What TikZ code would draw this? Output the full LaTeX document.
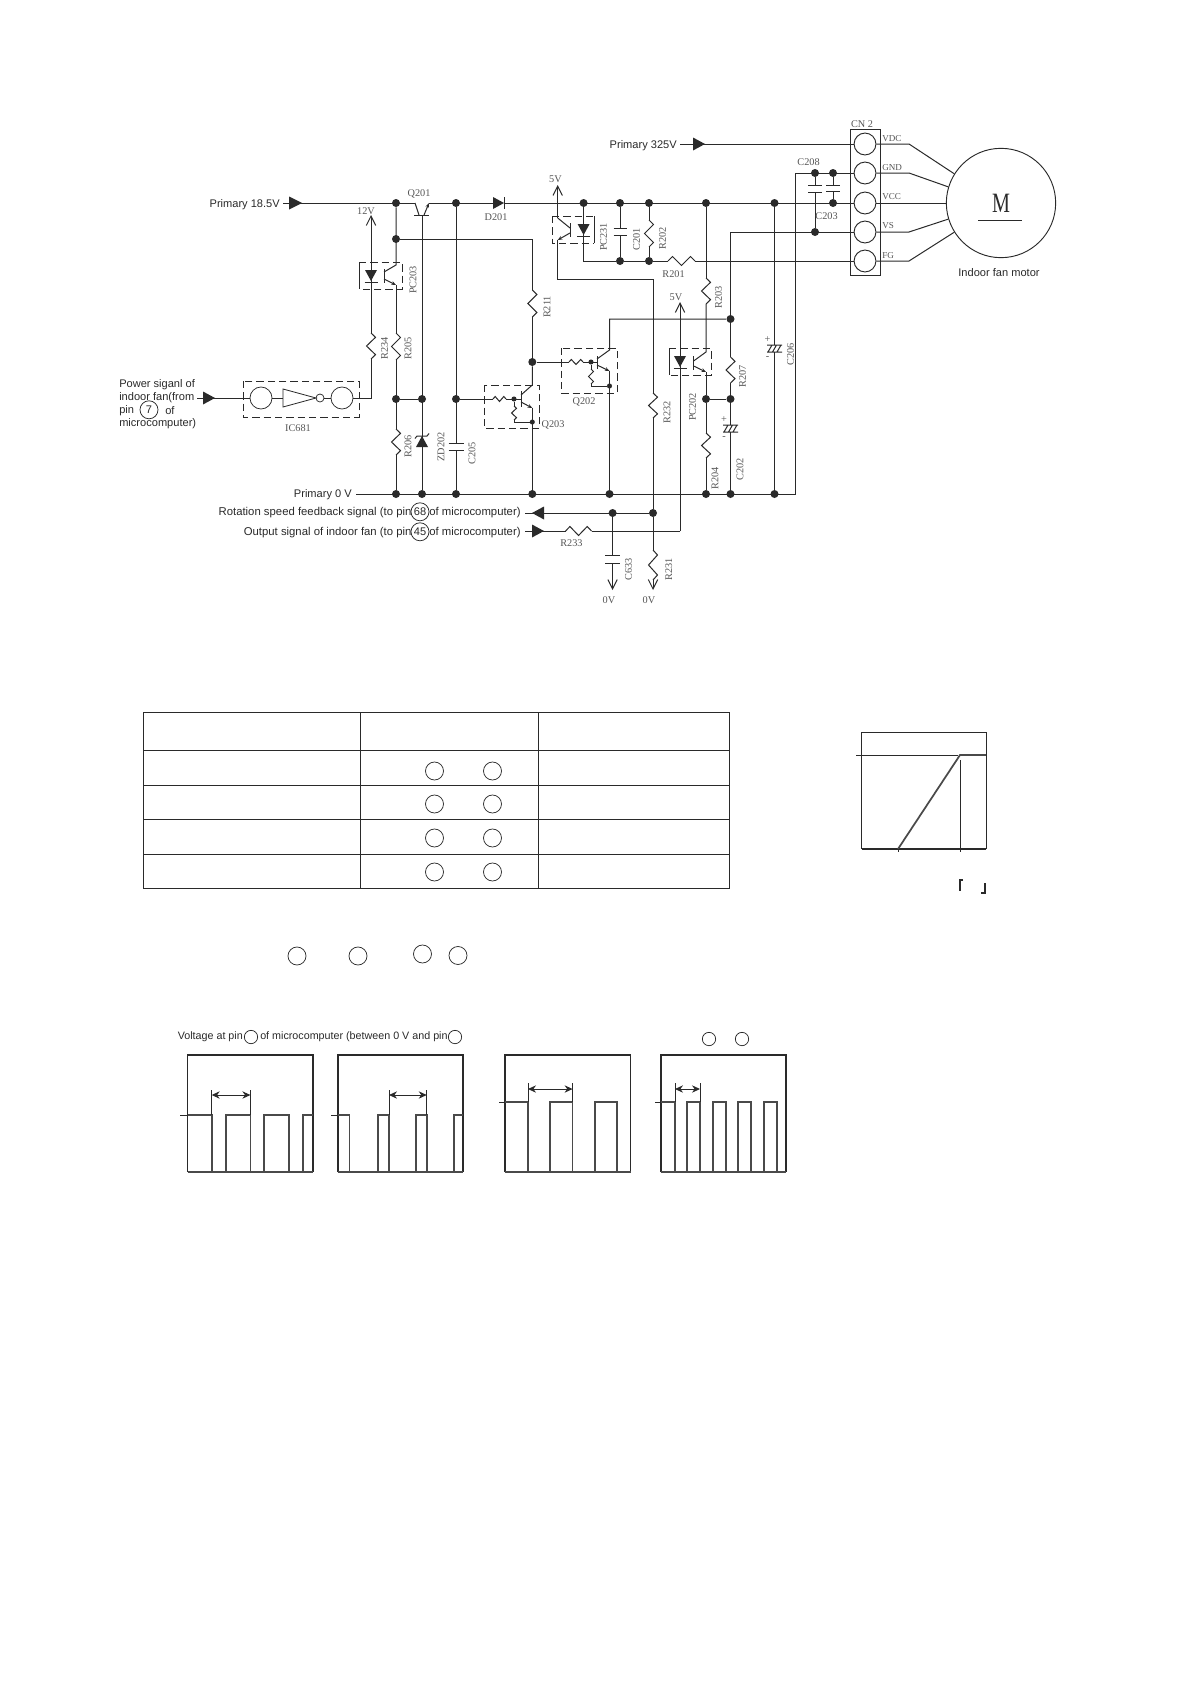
\documentclass[tikz,border=0pt]{standalone}
\usepackage{fontspec}
\setmainfont{Liberation Serif}
\newfontfamily\sansf{Liberation Sans}
\usetikzlibrary{arrows.meta}
\definecolor{ink}{HTML}{2A2A2A}
\definecolor{lab}{HTML}{555555}
\newcommand\RV[5][4.5]{%
  \coordinate (#2a) at (#3,#4); \coordinate (#2b) at (#3,#5);
  \pgfmathsetmacro\myrh{#5-#4}
  \draw[wire] (#2a) -- ++(#1,\myrh/6) -- ++(-2*#1,\myrh/3) -- ++(2*#1,\myrh/3) -- (#2b);}
\newcommand\RH[5][4.5]{%
  \coordinate (#2a) at (#4,#3); \coordinate (#2b) at (#5,#3);
  \pgfmathsetmacro\myrh{#5-#4}
  \draw[wire] (#2a) -- ++(\myrh/6,-#1) -- ++(\myrh/3,2*#1) -- ++(\myrh/3,-2*#1) -- (#2b);}
\newcommand\TriR[3]{\fill[ink] (#1,#3-6.5) -- (#2,#3) -- (#1,#3+6.5) -- cycle;}
\newcommand\TriD[3]{\fill[ink] (#1-6,#2) -- (#1+6,#2) -- (#1,#3) -- cycle; \draw[wire] (#1-6.5,#3+1) -- (#1+6.5,#3+1);}
\newcommand\CapV[4]{\draw[wire] (#1-#4,#2) -- (#1+#4,#2) (#1-#4,#3) -- (#1+#4,#3);}
\newcommand\PCap[4]{\draw[wire] (#1-#4,#2) -- (#1+#4,#2) (#1-#4,#3) -- (#1+#4,#3)
  (#1-#4+1,#3) -- (#1-#4+5,#2) (#1-2,#3) -- (#1+2,#2) (#1+#4-5,#3) -- (#1+#4-1,#2);}
\newcommand\Lb[4]{\node[slab] (#1) at (#2,#3) {#4};}
\newcommand\Lr[4]{\node[slab,rotate=90] (#1) at (#2,#3) {#4};}
\tikzset{
  wire/.style={draw=ink,line width=0.75pt},
  thinl/.style={draw=ink,line width=0.6pt},
  bdot/.style={fill=ink,circle,inner sep=0pt,minimum size=6pt},
  sdot/.style={fill=ink,circle,inner sep=0pt,minimum size=3.8pt},
  slab/.style={text=lab,inner sep=0pt,font=\fontsize{7.7pt}{8pt}\selectfont},
  txt/.style={text=ink,inner sep=0pt,yshift=-1pt,font=\sansf\fontsize{8.3pt}{9pt}\selectfont},
  sigt/.style={txt,font=\sansf\fontsize{8.5pt}{9pt}\selectfont},
  volt/.style={text=ink,inner sep=0pt,font=\sansf\fontsize{8.05pt}{9pt}\selectfont},
  dbox/.style={draw=ink,line width=0.6pt,dash pattern=on 5.5pt off 3pt},
  open/.style={-{Straight Barb[length=7pt,width=7pt]}},
  pinc/.style={draw=ink,line width=0.55pt,circle,inner sep=0pt,minimum size=13.5pt},
  pinn/.style={pinc,text=ink,yshift=-0.6pt,font=\sansf\fontsize{8.3pt}{9pt}\selectfont},
  pins/.style={draw=ink,line width=0.55pt,circle,inner sep=0pt,minimum size=10pt},
  conn/.style={draw=ink,line width=0.7pt,circle,inner sep=0pt,minimum size=16.4pt},
  tarrow/.style={-{Stealth[length=3.5pt,width=2.8pt]}},
  frame/.style={draw=ink,line width=0.9pt},
  wave/.style={draw=ink!85,line width=1.3pt},
  span/.style={{Stealth[length=6pt,width=5.5pt]}-{Stealth[length=6pt,width=5.5pt]},draw=ink,line width=0.7pt},
  tbl/.style={draw=ink,line width=0.75pt}
}
\begin{document}
\begin{tikzpicture}[x=0.75pt,y=-0.75pt]
\path[use as bounding box,fill=white] (0,0) rectangle (1190,1684);
% connector block and motor
\draw[wire] (850,129) rectangle (880,275);
\foreach \nm/\yy in {1/144,2/173,3/203,4/232,5/261} \node[conn] (cn\nm) at (865,\yy) {};
\node[draw=ink,line width=0.7pt,circle,inner sep=0pt,minimum size=82pt] (mot) at (1001,203) {};
\coordinate (k1) at (909,144); \coordinate (k2) at (909,173);
\coordinate (k4) at (909,232); \coordinate (k5) at (909,261);
\draw[wire] (cn1.east) -- (k1) -- (mot.148);
\draw[wire] (cn2.east) -- (k2) -- (mot.163);
\draw[wire] (cn3.east) -- (mot.west);
\draw[wire] (cn4.east) -- (k4) -- (mot.197);
\draw[wire] (cn5.east) -- (k5) -- (mot.212);
\node[inner sep=0pt,text=ink,xscale=0.72,font=\fontsize{21pt}{22pt}\selectfont] (mm) at (1001,203) {M};
\coordinate (ula) at (978,220); \coordinate (ulb) at (1022,220);
\draw[wire] (ula) -- (ulb);
\node[txt] (lmot) at (999,271) {Indoor fan motor};
\Lb{lcn}{862}{124}{CN 2}
\node[slab,anchor=west,font=\fontsize{6.8pt}{8pt}\selectfont] (lv1) at (882,139) {VDC};
\node[slab,anchor=west,font=\fontsize{6.8pt}{8pt}\selectfont] (lv2) at (882,168) {GND};
\node[slab,anchor=west,font=\fontsize{6.8pt}{8pt}\selectfont] (lv3) at (882,197) {VCC};
\node[slab,anchor=west,font=\fontsize{6.8pt}{8pt}\selectfont] (lv4) at (882,226) {VS};
\node[slab,anchor=west,font=\fontsize{6.8pt}{8pt}\selectfont] (lv5) at (882,256) {FG};
% 325 V
\node[txt,anchor=east] (l325) at (677,144) {Primary 325V};
\coordinate (s325) at (680,144);
\draw[wire] (s325) -- (cn1.west);
\TriR{693}{705}{144}
% top rail
\node[txt,anchor=east] (l185) at (280,203) {Primary 18.5V};
\coordinate (s185) at (283,203);
\coordinate (qe) at (415,203); \coordinate (qc) at (429,203);
\coordinate (qb) at (422,215); \coordinate (da) at (493,203); \coordinate (db) at (504,203);
\foreach \nm/\xx in {r1/396,r2/456,r3/583.6,r4/620,r5/649,r6/706,r7/774.5} \node[bdot] (\nm) at (\xx,203) {};
\draw[wire] (s185) -- (qe);
\draw[wire] (qc) -- (da);
\draw[wire] (db) -- (cn3.west);
\TriR{289}{302}{203}
\draw[wire] (414,215) -- (429,215);
\draw[wire] (qe) -- (419,215);
\draw[wire,tarrow] (424,215) -- (qc);
\Lb{lq201}{419}{194}{Q201}
\fill[ink] (493,197) -- (504,203) -- (493,209) -- cycle;
\draw[wire] (504,197) -- (504,209);
\Lb{ld201}{496}{217}{D201}
% 0 V rail
\node[txt,anchor=east] (l0v) at (352,493) {Primary 0 V};
\coordinate (s0) at (356,494); \coordinate (c0) at (795,494); \coordinate (c1) at (795,173);
\foreach \nm/\xx in {g1/396,g2/422,g3/456,g4/532.3,g5/609.5,g6/706,g7/730.5,g8/774.5} \node[bdot] (\nm) at (\xx,494) {};
\draw[wire] (s0) -- (c0) -- (c1) -- (cn2.west);
% left input and IC681
\node[txt,anchor=west] (lp1) at (119,383) {Power siganl of};
\node[txt,anchor=west] (lp2) at (119,396) {indoor fan(from};
\node[txt,anchor=west] (lp3) at (119,409) {pin};
\node[pinn] (p7) at (149,409) {7};
\node[txt,anchor=west] (lp4) at (165,409) {of};
\node[txt,anchor=west] (lp5) at (119,422) {microcomputer)};
\coordinate (sin) at (197,398);
\node[draw=ink,line width=0.55pt,circle,inner sep=0pt,minimum size=16.5pt] (ica) at (261,398) {};
\node[draw=ink,line width=0.55pt,circle,inner sep=0pt,minimum size=16.5pt] (icb) at (342,398) {};
\draw[wire] (sin) -- (ica.west);
\TriR{203}{215}{398}
\draw[dbox] (243,381) rectangle (359,417);
\coordinate (ia) at (283,398);
\draw[wire] (ica.east) -- (ia);
\draw[thinl] (283,389) -- (316,398) -- (283,407) -- cycle;
\node[draw=ink,line width=0.55pt,circle,inner sep=0pt,minimum size=6pt] (bub) at (320,398) {};
\draw[wire] (bub.east) -- (icb.west);
\coordinate (t1) at (371,398); \coordinate (t2) at (371,215);
\RV{R234}{371}{333}{359}
\draw[wire] (icb.east) -- (t1) -- (R234b);
\draw[wire,open] (R234a) -- (t2);
\Lb{l12}{366}{211}{12V}
\Lb{lic}{298}{428}{IC681}
\Lr{lr234}{384.5}{348}{R234}
\TriD{371}{270}{281}
% PC203
\draw[dbox] (359,262) -- (402,262) -- (402,289) -- (359,289);
\draw[thinl] (359,262) -- (359,289);
\draw[wire] (384,269) -- (384,283);
\RV{R205}{396}{333}{360}
\RV{R206}{396}{429}{455}
\node[bdot] (n239) at (396,239) {};
\node[bdot] (n399a) at (396,399) {};
\node[bdot] (n399b) at (422,399) {};
\node[bdot] (n399c) at (456,399) {};
\coordinate (q3c) at (396,265); \coordinate (q3e) at (396,285);
\draw[wire] (r1) -- (q3c) -- (384,272);
\draw[wire,tarrow] (384,279) -- (q3e);
\draw[wire] (q3e) -- (R205a);
\draw[wire] (R205b) -- (R206a);
\draw[wire] (R206b) -- (g1);
\draw[wire] (n399a) -- (n399b);
\Lr{lpc203}{413}{280}{PC203}
\Lr{lr205}{408}{348}{R205}
\Lr{lr206}{408}{446}{R206}
% Q201 base and zener
\draw[wire] (qb) -- (g2);
\fill[ink] (416,447) -- (428,447) -- (422,436) -- cycle;
\draw[wire] (415,438.5) -- (417,436) -- (427,436) -- (429,433.5);
\Lr{lzd}{441}{447}{ZD202}
% C205
\coordinate (c5a) at (456,443); \coordinate (c5b) at (456,450);
\draw[wire] (r2) -- (c5a);
\draw[wire] (c5b) -- (g3);
\CapV{456}{443}{450}{7.5}
\Lr{lc205}{472}{453}{C205}
% R211 and Q203
\coordinate (u1) at (532.3,239);
\RV{R211}{532.3}{290}{317}
\node[bdot] (n362) at (532.3,362) {};
\draw[wire] (n239) -- (u1) -- (R211a);
\draw[wire] (R211b) -- (n362);
\Lr{lr211}{547}{307}{R211}
\draw[dbox] (484,385) rectangle (539,428);
\RH[2.5]{RQ3}{399}{493}{506}
\node[sdot] (q3d) at (514,399) {};
\node[sdot] (q3f) at (532.3,422) {};
\RV[2.5]{RQ3v}{514}{406}{420}
\draw[wire] (n399c) -- (RQ3a);
\draw[wire] (RQ3b) -- (521,399);
\draw[wire] (521,391) -- (521,407);
\draw[wire] (q3d) -- (RQ3va);
\draw[wire] (RQ3vb) -- (514,422) -- (q3f);
\draw[wire] (n362) -- (532.3,385) -- (521,395);
\draw[wire,tarrow] (521,402) -- (532.3,408);
\draw[wire] (532.3,408) -- (g4);
\Lb{lq203}{553}{425}{Q203}
% Q202
\draw[dbox] (561,348) rectangle (617,393);
\RH[2.5]{RQ2}{362}{569}{583}
\node[sdot] (q2d) at (591,362) {};
\node[sdot] (q2f) at (609.5,386) {};
\RV[2.5]{RQ2v}{591}{369}{384}
\draw[wire] (n362) -- (RQ2a);
\draw[wire] (RQ2b) -- (597,362);
\draw[wire] (597,356) -- (597,369);
\draw[wire] (q2d) -- (RQ2va);
\draw[wire] (RQ2vb) -- (591,386) -- (q2f);
\node[bdot] (n319) at (730.5,319) {};
\draw[wire] (n319) -- (609.5,319) -- (609.5,350) -- (597,359);
\draw[wire,tarrow] (597,365) -- (609.5,371);
\draw[wire] (609.5,371) -- (g5);
\Lb{lq202}{584}{402}{Q202}
% PC231
\draw[dbox] (552,216) -- (552,243) -- (594,243);
\draw[dbox] (552,216) -- (594,216);
\draw[thinl] (594,216) -- (594,243);
\node[bdot] (n620b) at (620,261) {};
\node[bdot] (n649b) at (649,261) {};
\TriD{583.6}{224}{235}
\draw[wire] (r3) -- (583.6,261) -- (n620b);
\draw[wire] (570,223) -- (570,237);
\coordinate (top5) at (557.7,185);
\draw[wire,open] (557.7,218) -- (top5);
\draw[wire] (557.7,218) -- (570,228);
\draw[wire,tarrow] (570,233) -- (557.7,240);
\coordinate (v1) at (557.7,279); \coordinate (v2) at (653,279);
\RV{R232}{653}{393}{418}
\RV{R231}{653}{550}{580}
\node[bdot] (n653) at (653,513) {};
\draw[wire] (557.7,240) -- (v1) -- (v2) -- (R232a);
\draw[wire] (R232b) -- (n653) -- (R231a);
\coordinate (e231) at (653,590);
\draw[wire,open] (R231b) -- (e231);
\Lb{l5a}{555.5}{179}{5V}
\Lr{lpc231}{603.6}{237}{PC231}
\Lr{lr232}{667}{412}{R232}
\Lr{lr231}{668.7}{569}{R231}
\Lb{l0b}{649}{600}{0V}
% C201 R202 R201
\draw[wire] (r4) -- (620,228);
\draw[wire] (620,235) -- (n620b);
\CapV{620}{228}{235}{6.5}
\RV{R202}{649}{220}{247}
\draw[wire] (r5) -- (R202a);
\draw[wire] (R202b) -- (n649b);
\draw[wire] (n620b) -- (n649b);
\RH{R201}{261}{668}{695}
\draw[wire] (n649b) -- (R201a);
\draw[wire] (R201b) -- (cn5.west);
\Lr{lc201}{636.5}{239}{C201}
\Lr{lr202}{662.5}{238}{R202}
\Lb{lr201}{673.6}{274}{R201}
% R203 R204 PC202
\RV{R203}{706}{278}{304}
\RV{R204}{706}{433}{458}
\node[bdot] (n706) at (706,399) {};
\node[bdot] (n731) at (730.5,399) {};
\draw[wire] (r6) -- (R203a);
\draw[wire] (R203b) -- (706,352) -- (693.6,361);
\draw[wire,tarrow] (693.6,366) -- (706,372);
\draw[wire] (706,372) -- (n706) -- (R204a);
\draw[wire] (R204b) -- (g6);
\draw[wire] (n706) -- (n731);
\draw[dbox] (669,348) -- (711,348) -- (711,375) -- (669,375);
\draw[thinl] (669,348) -- (669,375);
\draw[wire] (693.6,356) -- (693.6,370);
\TriD{680}{356}{367}
\coordinate (top5b) at (680,302); \coordinate (d1) at (680,531);
\RH{R233}{531}{565.6}{591.5}
\draw[wire,open] (d1) -- (top5b);
\draw[wire] (R233b) -- (d1);
\Lb{l5b}{676}{297}{5V}
\Lr{lpc202}{692.6}{407}{PC202}
\Lr{lr203}{718.6}{297}{R203}
\Lr{lr204}{715}{478}{R204}
\Lb{lr233}{571.5}{543}{R233}
% R207 C202
\coordinate (v0) at (730.5,232);
\RV{R207}{730.5}{357}{383}
\node[bdot] (n816b) at (815,232) {};
\draw[wire] (cn4.west) -- (v0) -- (n319) -- (R207a);
\draw[wire] (R207b) -- (n731) -- (730.5,425);
\draw[wire] (730.5,432) -- (g7);
\PCap{730.5}{425}{432}{7.5}
\node[slab] (p202) at (724,420) {+};
\node[slab] (m202) at (724,438) {-};
\Lr{lr207}{742.5}{376}{R207}
\Lr{lc202}{740}{469}{C202}
% C206
\draw[wire] (r7) -- (774.5,345);
\draw[wire] (774.5,352) -- (g8);
\PCap{774.5}{345}{352}{7.5}
\node[slab] (p206) at (767.5,340) {+};
\node[slab] (m206) at (767.5,358) {-};
\Lr{lc206}{790.6}{354}{C206}
% C208 C203
\node[bdot] (n816) at (815,173) {};
\node[bdot] (n834) at (833,173) {};
\node[bdot] (n834b) at (833,203) {};
\draw[wire] (n816) -- (815,185);
\draw[wire] (815,192) -- (n816b);
\CapV{815}{185}{192}{7}
\draw[wire] (n834) -- (833,185);
\draw[wire] (833,191) -- (n834b);
\CapV{833}{185}{191}{7}
\Lb{lc208}{808.6}{162}{C208}
\Lb{lc203}{826.6}{216}{C203}
% signal lines
\node[sigt,anchor=east] (l681) at (411.7,511) {Rotation speed feedback signal (to pin};
\node[pinn] (p68) at (420,511) {68};
\node[sigt,anchor=west] (l682) at (429,511) {of microcomputer)};
\node[sigt,anchor=east] (l451) at (411.7,531) {Output signal of indoor fan (to pin};
\node[pinn] (p45) at (420,531) {45};
\node[sigt,anchor=west] (l452) at (429,531) {of microcomputer)};
\coordinate (s68) at (525,513); \coordinate (s45) at (525,531);
\node[bdot] (n613) at (612.6,513) {};
\draw[wire] (s68) -- (n653);
\draw[wire] (s45) -- (R233a);
\fill[ink] (544,506.5) -- (532,513) -- (544,519.5) -- cycle;
\TriR{532}{544}{531}
\draw[wire] (n613) -- (612.6,555);
\coordinate (e633) at (612.6,590);
\draw[wire,open] (612.6,563) -- (e633);
\CapV{612.6}{555}{563}{7.5}
\Lr{lc633}{628.6}{569}{C633}
\Lb{l0a}{609}{600}{0V}
% table
\draw[tbl] (143.3,712) rectangle (729,888);
\foreach \yy in {750,785,819,854} \draw[tbl] (143.3,\yy) -- (729,\yy);
\draw[tbl] (360.5,712) -- (360.5,888);
\draw[tbl] (538,712) -- (538,888);
\foreach \nm/\yy in {a/771,b/804,c/838,d/872} {
  \node[pinc] (t\nm1) at (434.5,\yy) {};
  \node[pinc] (t\nm2) at (492.5,\yy) {};
}
\node[pinc] (u1c) at (297,956) {};
\node[pinc] (u2c) at (358,956) {};
\node[pinc] (u3c) at (422.5,954) {};
\node[pinc] (u4c) at (458,955.5) {};
% characteristic
\draw[wire] (986,732) -- (861.5,732);
\draw[frame] (861.5,732) -- (861.5,849);
\draw[thinl] (856,755) -- (958,755);
\draw[draw=ink,line width=1.5pt] (861.5,849) -- (986,849);
\draw[wave] (898,849) -- (960,755) -- (986,755);
\draw[thinl] (960,760) -- (960,852);
\draw[thinl] (898,849) -- (898,852);
\draw[thinl] (986,732) -- (986,849);
\draw[frame] (963,880) -- (960,880) -- (960,891);
\draw[frame] (985,883) -- (985,893) -- (981,893);
% waveforms
\node[volt,anchor=west] (lv) at (177.5,1037) {Voltage at pin};
\node[pins] (vc1) at (251,1037) {};
\node[volt,anchor=west] (lv2x) at (260,1037) {of microcomputer (between 0 V and pin};
\node[pins] (vc2) at (455,1037) {};
\node[pins] (vc3) at (709,1039) {};
\node[pins] (vc4) at (742,1039) {};
% plot 1
\draw[frame] (187.5,1172) -- (187.5,1055) -- (313,1055) -- (313,1172);
\draw[thinl] (180,1115) -- (187.5,1115);
\draw[wave] (187.5,1115) -- (211.7,1115) -- (211.7,1172) -- (226,1172) -- (226,1115) -- (250.4,1115) -- (250.4,1172) -- (264,1172) -- (264,1115) -- (289,1115) -- (289,1172) -- (303,1172) -- (303,1115) -- (313,1115);
\draw[wave] (187.5,1172) -- (313,1172);
\draw[thinl] (211.7,1090) -- (211.7,1115) (250.4,1090) -- (250.4,1115);
\draw[span] (211.7,1095) -- (250.4,1095);
% plot 2
\draw[frame] (338,1172) -- (338,1055) -- (463,1055) -- (463,1172);
\draw[thinl] (331,1115) -- (338,1115);
\draw[wave] (338,1115) -- (349.6,1115) -- (349.6,1172) -- (378,1172) -- (378,1115) -- (389,1115) -- (389,1172) -- (416,1172) -- (416,1115) -- (426.7,1115) -- (426.7,1172) -- (454,1172) -- (454,1115) -- (463,1115);
\draw[wave] (338,1172) -- (463,1172);
\draw[thinl] (389,1090) -- (389,1115) (426.7,1090) -- (426.7,1115);
\draw[span] (389,1095) -- (426.7,1095);
% plot 3
\begin{scope}[xshift=-1.5pt]
\draw[frame] (507,1172) -- (507,1055) -- (632.5,1055) -- (632.5,1172);
\draw[thinl] (501,1102) -- (507,1102);
\draw[wave] (507,1102) -- (530,1102) -- (530,1172) -- (552,1172) -- (552,1102) -- (574.6,1102) -- (574.6,1172) -- (597,1172) -- (597,1102) -- (619,1102) -- (619,1172) -- (632.5,1172);
\draw[wave] (507,1172) -- (632.5,1172);
\draw[thinl] (530,1083) -- (530,1102) (574.6,1083) -- (574.6,1102);
\draw[span] (530,1089) -- (574.6,1089);
\end{scope}
% plot 4
\begin{scope}[xshift=-2.25pt]
\draw[frame] (664,1172) -- (664,1055) -- (789,1055) -- (789,1172);
\draw[thinl] (658,1102) -- (664,1102);
\draw[wave] (664,1102) -- (678,1102) -- (678,1172) -- (690,1172) -- (690,1102) -- (703,1102) -- (703,1172) -- (716,1172) -- (716,1102) -- (729,1102) -- (729,1172) -- (741,1172) -- (741,1102) -- (754,1102) -- (754,1172) -- (767,1172) -- (767,1102) -- (780,1102) -- (780,1172) -- (789,1172);
\draw[wave] (664,1172) -- (789,1172);
\draw[thinl] (678,1083) -- (678,1102) (703,1083) -- (703,1102);
\draw[span] (678,1089) -- (703,1089);
\end{scope}
\end{tikzpicture}
\end{document}
